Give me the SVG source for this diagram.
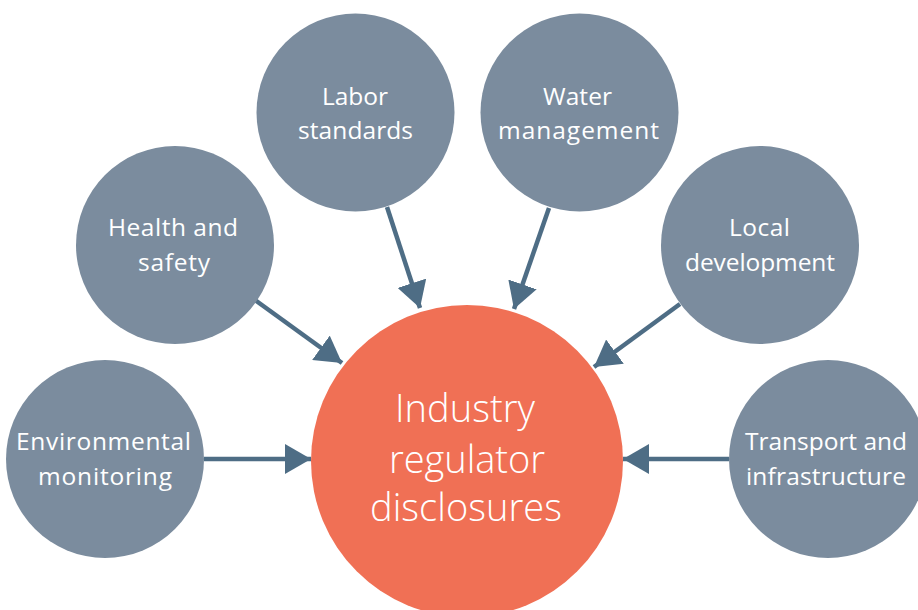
<svg xmlns="http://www.w3.org/2000/svg" width="918" height="610" viewBox="0 0 918 610">
<defs>
<marker id="ah" viewBox="0 0 26 30" refX="26" refY="15" markerWidth="26" markerHeight="30" markerUnits="userSpaceOnUse" orient="auto">
<path d="M0,0 L26,15 L0,30 Z" fill="#4e6d85"/>
</marker>
<style>
.n{fill:#7b8c9e}
.c{fill:#f07055}
.t{fill:#ffffff;font-family:"Open Sans","Noto Sans","Liberation Sans",sans-serif;font-size:24.5px;font-weight:400;text-anchor:middle}
.tb{fill:#ffffff;font-family:"Open Sans","Noto Sans","Liberation Sans",sans-serif;font-size:38px;font-weight:300;text-anchor:middle}
.e{stroke:#4e6d85;stroke-width:4.5;fill:none;marker-end:url(#ah)}
</style>
</defs>
<rect width="918" height="610" fill="#ffffff"/>
<g id="connectors">
<line class="e" x1="204" y1="459" x2="311" y2="459"/>
<line class="e" x1="729" y1="459" x2="623" y2="459"/>
<line class="e" x1="255" y1="300" x2="342" y2="363"/>
<line class="e" x1="387" y1="207" x2="420" y2="308"/>
<line class="e" x1="549" y1="208" x2="514" y2="309"/>
<line class="e" x1="680" y1="304" x2="594" y2="367"/>
</g>
<g id="center">
<circle class="c" cx="467" cy="461" r="156"/>
<text class="tb" x="465" y="422" textLength="140" lengthAdjust="spacing">Industry</text>
<text class="tb" x="467" y="473" textLength="156" lengthAdjust="spacing">regulator</text>
<text class="tb" x="466" y="521" textLength="192" lengthAdjust="spacing">disclosures</text>
</g>
<g id="env">
<circle class="n" cx="105" cy="459" r="99"/>
<text class="t" x="103.5" y="450" textLength="175" lengthAdjust="spacing">Environmental</text>
<text class="t" x="105" y="485" textLength="134" lengthAdjust="spacing">monitoring</text>
</g>
<g id="health">
<circle class="n" cx="175" cy="245" r="99"/>
<text class="t" x="173" y="236" textLength="130" lengthAdjust="spacing">Health and</text>
<text class="t" x="174" y="271" textLength="72" lengthAdjust="spacing">safety</text>
</g>
<g id="labor">
<circle class="n" cx="355.5" cy="112.5" r="99"/>
<text class="t" x="355" y="105" textLength="66" lengthAdjust="spacing">Labor</text>
<text class="t" x="355.5" y="139" textLength="115" lengthAdjust="spacing">standards</text>
</g>
<g id="water">
<circle class="n" cx="579.5" cy="112.5" r="99"/>
<text class="t" x="577.5" y="105" textLength="69" lengthAdjust="spacing">Water</text>
<text class="t" x="578.5" y="139" textLength="161" lengthAdjust="spacing">management</text>
</g>
<g id="local">
<circle class="n" cx="760" cy="245" r="99"/>
<text class="t" x="759.5" y="236" textLength="61" lengthAdjust="spacing">Local</text>
<text class="t" x="760" y="271" textLength="150" lengthAdjust="spacing">development</text>
</g>
<g id="transport">
<circle class="n" cx="828" cy="459" r="99"/>
<text class="t" x="826" y="450" textLength="162" lengthAdjust="spacing">Transport and</text>
<text class="t" x="826" y="485" textLength="160" lengthAdjust="spacing">infrastructure</text>
</g>
</svg>
